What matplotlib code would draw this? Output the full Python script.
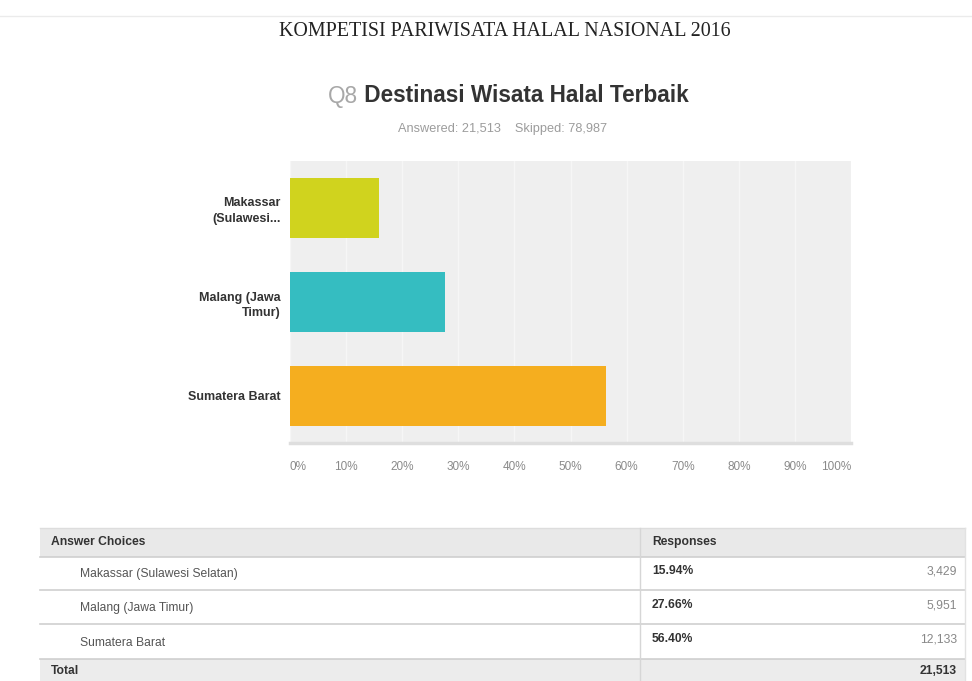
import matplotlib
matplotlib.use("Agg")
import matplotlib.pyplot as plt
from matplotlib.patches import Rectangle

# ---- data ----
categories = ["Makassar\n(Sulawesi...", "Malang (Jawa\nTimur)", "Sumatera Barat"]
full_names = ["Makassar (Sulawesi Selatan)", "Malang (Jawa Timur)", "Sumatera Barat"]
percents = [15.94, 27.66, 56.40]
counts = ["3,429", "5,951", "12,133"]
total = "21,513"
answered = "21,513"
skipped = "78,987"
bar_colors = ["#D0D31E", "#35BDC1", "#F5AE1F"]
xticks = [0, 10, 20, 30, 40, 50, 60, 70, 80, 90, 100]
xtick_labels = [f"{v}%" for v in xticks]

W, H = 972, 681
fig = plt.figure(figsize=(W / 100, H / 100), dpi=100)
fig.patch.set_facecolor("white")

def fx(px):
    return px / W

def fy(py):
    return 1 - py / H

# ---- overlay axes in pixel coordinates (titles, table) ----
ov = fig.add_axes([0, 0, 1, 1], zorder=0)
ov.set_xlim(0, W)
ov.set_ylim(H, 0)
ov.axis("off")

ov.plot([0, W], [16, 16], color="#ebebeb", lw=1)
ov.text(505, 31, "KOMPETISI PARIWISATA HALAL NASIONAL 2016", ha="center", va="center",
        fontsize=14.4, family="Liberation Serif", color="#222222")

# composite title: grey "Q8" + bold dark text
t1 = ov.text(0, 0, "Q8", fontsize=16.3, family="Liberation Sans", color="#a8a8a8")
t2 = ov.text(0, 0, " Destinasi Wisata Halal Terbaik", fontsize=16.3, family="Liberation Sans",
             fontweight="bold", color="#333333")
fig.canvas.draw()
r = fig.canvas.get_renderer()
w1 = t1.get_window_extent(r).width
w2 = t2.get_window_extent(r).width
x0 = 508 - (w1 + w2) / 2
t1.set_position((x0, 96)); t1.set_va("center")
t2.set_position((x0 + w1, 96)); t2.set_va("center")

ov.text(503, 129, f"Answered: {answered}    Skipped: {skipped}", ha="center", va="center",
        fontsize=9.2, family="Liberation Sans", color="#9c9c9c")

# ---- table ----
tl, tr, tm = 40, 965, 640
hdr_top, hdr_bot = 528, 557
row_bounds = [557, 590, 624, 659]
tot_bot = 681
line_c = "#cfcfcf"
ov.add_patch(Rectangle((tl, hdr_top), tr - tl, hdr_bot - hdr_top, facecolor="#e9e9e9", edgecolor="none"))
ov.add_patch(Rectangle((tl, row_bounds[-1]), tr - tl, tot_bot - row_bounds[-1], facecolor="#ececec", edgecolor="none"))
ov.plot([tl, tr], [hdr_top, hdr_top], color="#dddddd", lw=1)
for yb in row_bounds:
    ov.plot([tl, tr], [yb, yb], color=line_c, lw=1.2)
ov.plot([tm, tm], [hdr_top, tot_bot], color="#d6d6d6", lw=1)
ov.plot([tr, tr], [hdr_top, tot_bot], color="#e2e2e2", lw=1)

fs_t = 8.7
ov.text(51, 542, "Answer Choices", ha="left", va="center", fontsize=fs_t, fontweight="bold",
        family="Liberation Sans", color="#333333")
ov.text(652, 542, "Responses", ha="left", va="center", fontsize=fs_t, fontweight="bold",
        family="Liberation Sans", color="#333333")
for i, (nm, p, c) in enumerate(zip(full_names, percents, counts)):
    yc = (row_bounds[i] + row_bounds[i + 1]) / 2 + 1
    ov.text(80, yc, nm, ha="left", va="center", fontsize=fs_t, family="Liberation Sans", color="#555555")
    ov.text(652, yc - 3, f"{p:.2f}%", ha="left", va="center", fontsize=fs_t, fontweight="bold",
            family="Liberation Sans", color="#333333")
    ov.text(957, yc - 3, c, ha="right", va="center", fontsize=fs_t, family="Liberation Sans", color="#888888")
ov.text(51, 671, "Total", ha="left", va="center", fontsize=fs_t, fontweight="bold",
        family="Liberation Sans", color="#333333")
ov.text(957, 671, total, ha="right", va="center", fontsize=fs_t, fontweight="bold",
        family="Liberation Sans", color="#333333")

# ---- bar chart ----
left, right, top, bottom = 290, 851, 161, 443
ax = fig.add_axes([fx(left), fy(bottom), fx(right - left), (bottom - top) / H], zorder=1)
ax.set_facecolor("#efefef")
ypos = list(range(len(categories)))
ax.barh(ypos, percents, height=0.63, color=bar_colors, zorder=3)
ax.set_xlim(0, 100)
ax.set_ylim(len(categories) - 0.5, -0.5)
ax.set_yticks(ypos)
ax.set_yticklabels(categories, fontsize=9, fontweight="bold", family="Liberation Sans",
                   color="#333333", linespacing=1.4)
ax.set_xticks(xticks)
ax.set_xticklabels(xtick_labels, fontsize=8.5, family="Liberation Sans", color="#8a8a8a")
labels = ax.get_xticklabels()
labels[0].set_ha("left")
labels[-1].set_ha("right")
ax.tick_params(axis="x", length=0, pad=13)
ax.tick_params(axis="y", length=0, pad=7)
ax.grid(axis="x", color="#f6f6f6", lw=1, zorder=1)
for s in ["top", "left", "right"]:
    ax.spines[s].set_visible(False)
ax.spines["bottom"].set_color("#dedede")
ax.spines["bottom"].set_linewidth(2.5)

fig.savefig("out.png", dpi=100, facecolor="white")
